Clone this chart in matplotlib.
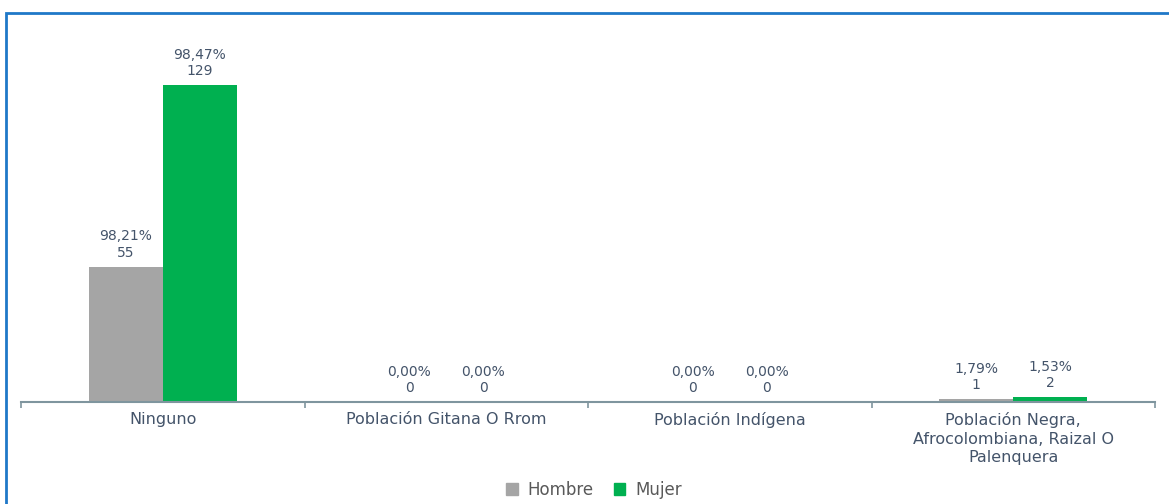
import matplotlib.pyplot as plt
import matplotlib.patches as mpatches
import numpy as np

categorias = ["Ninguno", "Población Gitana O Rrom", "Población Indígena",
              "Población Negra,\nAfrocolombiana, Raizal O\nPalenquera"]
hombre = [55, 0, 0, 1]
mujer = [129, 0, 0, 2]
hombre_pct = ["98,21%", "0,00%", "0,00%", "1,79%"]
mujer_pct = ["98,47%", "0,00%", "0,00%", "1,53%"]

color_hombre = "#A5A5A5"
color_mujer = "#00B050"
texto = "#44546A"

plt.rcParams['font.family'] = ['DejaVu Sans']

fig = plt.figure(figsize=(11.69, 5.04), dpi=100)
ax = fig.add_axes([21 / 1169, 1 - 401.7 / 504, (1155 - 21) / 1169, 368.6 / 504])

x = np.arange(len(categorias))
w = 0.261
ax.bar(x - w / 2, hombre, w, color=color_hombre, label="Hombre")
ax.bar(x + w / 2, mujer, w, color=color_mujer, label="Mujer")

for i in range(len(categorias)):
    ax.annotate(f"{hombre_pct[i]}\n{hombre[i]}", (x[i] - w / 2, hombre[i]),
                xytext=(0, 5), textcoords="offset points", ha="center", va="bottom",
                fontsize=10, color=texto, linespacing=1.2)
    ax.annotate(f"{mujer_pct[i]}\n{mujer[i]}", (x[i] + w / 2, mujer[i]),
                xytext=(0, 5), textcoords="offset points", ha="center", va="bottom",
                fontsize=10, color=texto, linespacing=1.2)

ax.set_xlim(-0.5, len(categorias) - 0.5)
ax.set_ylim(0, 150)
for s in ["top", "right", "left"]:
    ax.spines[s].set_visible(False)
ax.spines["bottom"].set_color("#7F959E")
ax.spines["bottom"].set_linewidth(1.5)
ax.set_yticks([])
ax.set_xticks(np.arange(-0.5, len(categorias)))
ax.set_xticklabels([])
ax.tick_params(axis="x", length=4, color="#7F959E", width=1.2)
for i, c in enumerate(categorias):
    ax.text(x[i], -4.3, c, ha="center", va="top", fontsize=11.5, color=texto,
            linespacing=1.3)

handles = [mpatches.Patch(color=color_hombre, label="Hombre"),
           mpatches.Patch(color=color_mujer, label="Mujer")]
leg = fig.legend(handles=handles, loc="center", bbox_to_anchor=(594 / 1169, 1 - 490 / 504),
                 ncol=2, frameon=False, fontsize=12, handlelength=0.7, handleheight=0.7,
                 handletextpad=0.6, columnspacing=1.2)
for t in leg.get_texts():
    t.set_color("#595959")

border = mpatches.Rectangle((6 / 1169, -0.1), 1.2, 1 - 13 / 504 + 0.1, transform=fig.transFigure,
                            fill=False, edgecolor="#1F78C8", linewidth=2)
fig.patches.append(border)

fig.savefig("out.png", dpi=100)
